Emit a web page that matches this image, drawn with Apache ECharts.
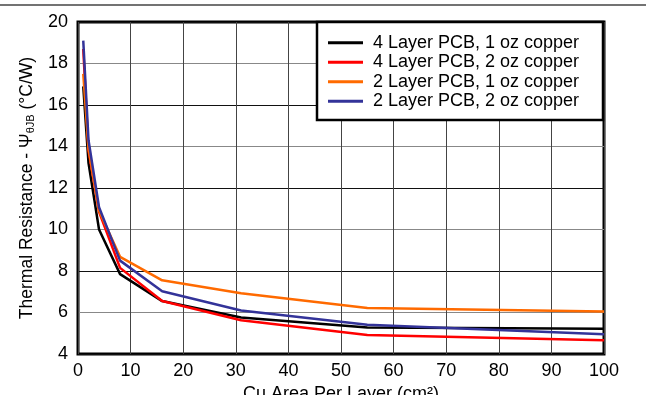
<!DOCTYPE html>
<html>
<head>
<meta charset="utf-8">
<script src="https://cdn.jsdelivr.net/npm/echarts@6/dist/echarts.min.js"></script>
<style>
  html, body { margin: 0; padding: 0; background: #fff; }
  #main { width: 646px; height: 395px; }
</style>
</head>
<body>
<div id="main"></div>
<script>
// copper area per layer (cm2)
var area = [1, 2, 4, 8, 16, 31, 55, 100];

// thermal resistance psi-JB (C/W)
var l4oz1 = [16.9, 13.2, 10.0, 7.85, 6.55, 5.76, 5.28, 5.22];
var l4oz2 = [18.7, 13.8, 10.85, 8.15, 6.55, 5.63, 4.92, 4.66];
var l2oz1 = [17.5, 13.9, 10.9, 8.68, 7.55, 6.93, 6.22, 6.05];
var l2oz2 = [19.1, 14.3, 11.07, 8.5, 7.02, 6.1, 5.41, 4.95];

var names = ['4 Layer PCB, 1 oz copper', '4 Layer PCB, 2 oz copper',
             '2 Layer PCB, 1 oz copper', '2 Layer PCB, 2 oz copper'];
var colors = ['#000000', '#ff0000', '#ff6a00', '#333399'];
var values = [l4oz1, l4oz2, l2oz1, l2oz2];

function pairs(ys) {
  return area.map(function (x, i) { return [x, ys[i]]; });
}

var font = 'Liberation Sans, Arial, Helvetica, sans-serif';

var myChart = echarts.init(document.getElementById('main'));

var series = values.map(function (v, i) {
  return {
    name: names[i],
    type: 'line',
    data: pairs(v),
    showSymbol: false,
    symbol: 'none',
    color: colors[i],
    lineStyle: { width: 2.5, color: colors[i] },
    z: 3 + i
  };
});

var option = {
  animation: false,
  backgroundColor: '#fff',
  grid: {
    left: 78, right: 42, top: 22, bottom: 41,
    outerBoundsMode: 'none',
    containLabel: false,
    show: true, borderColor: '#000', borderWidth: 3, backgroundColor: 'transparent'
  },
  graphic: [
    { type: 'line', shape: { x1: 0, y1: 5, x2: 646, y2: 5 },
      style: { stroke: '#444', lineWidth: 1.5 }, z: 10 },
    { type: 'rect', shape: { x: 317, y: 22, width: 286, height: 98 },
      style: { fill: '#fff', stroke: '#000', lineWidth: 2.5 }, z: 50 }
  ],
  legend: {
    orient: 'vertical',
    left: 328, top: 33,
    padding: 0,
    itemGap: 0,
    itemWidth: 35, itemHeight: 3,
    icon: 'rect',
    z: 60,
    textStyle: { fontFamily: font, fontSize: 18, color: '#000', lineHeight: 19.5, padding: [0, 0, 0, 5] },
    data: names
  },
  xAxis: {
    type: 'value', min: 0, max: 100, interval: 10,
    name: 'Cu Area Per Layer (cm²)',
    nameLocation: 'middle', nameGap: 29,
    nameTextStyle: { fontFamily: font, fontSize: 18, color: '#000', verticalAlign: 'top' },
    axisLine: { show: false },
    axisTick: { show: false },
    axisLabel: { fontFamily: font, fontSize: 18, color: '#000', margin: 8 },
    splitLine: { lineStyle: { color: '#444', width: 1 } }
  },
  yAxis: {
    type: 'value', min: 4, max: 20, interval: 2,
    name: '{a|Thermal Resistance - Ψ}{s|θJB}{a| (°C/W)}',
    nameLocation: 'middle', nameGap: 41,
    nameTextStyle: {
      rich: {
        a: { fontFamily: font, fontSize: 17.5, color: '#000', lineHeight: 20 },
        s: { fontFamily: font, fontSize: 11, color: '#000', lineHeight: 20, padding: [7, 0, 0, 0] }
      }
    },
    axisLine: { show: false },
    axisTick: { show: false },
    axisLabel: { fontFamily: font, fontSize: 18, color: '#000', margin: 10 },
    splitLine: { lineStyle: { color: ['#111', '#888'], width: 1 } }
  },
  series: series
};

myChart.setOption(option);
</script>
</body>
</html>
